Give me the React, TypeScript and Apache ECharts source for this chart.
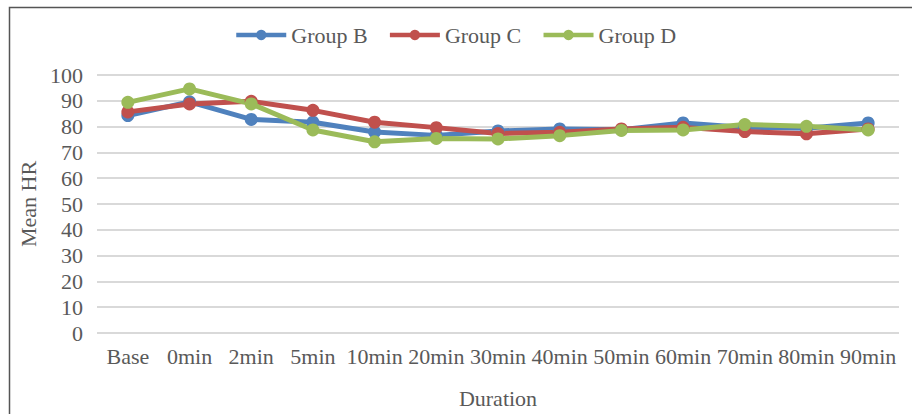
import React, { useEffect, useRef } from "react";
import * as echarts from "echarts";

const categories = ["Base", "0min", "2min", "5min", "10min", "20min", "30min", "40min", "50min", "60min", "70min", "80min", "90min"];
const groupB = [84.3, 89.6, 82.8, 81.7, 77.9, 76.6, 78.3, 79.1, 78.8, 81.4, 79.7, 79.4, 81.4];
const groupC = [85.7, 88.8, 89.8, 86.3, 81.7, 79.6, 77.3, 77.8, 79.1, 79.7, 78.1, 77.2, 79.1];
const groupD = [89.4, 94.6, 88.8, 78.7, 74.1, 75.4, 75.2, 76.5, 78.5, 78.7, 80.8, 80.1, 78.7];
const seriesNames = ["Group B", "Group C", "Group D"];
const colors = ["#4F81BD", "#C0504D", "#9BBB59"];

const FONT = "'Liberation Serif', 'Times New Roman', serif";
const TEXT = "#595959";
const FS = 22;

export default function App() {
  const ref = useRef<HTMLDivElement>(null);
  useEffect(() => {
    if (!ref.current) return;
    const chart = echarts.init(ref.current, null, { renderer: "svg" });
    const data = [groupB, groupC, groupD];
    chart.setOption({
      animation: false,
      textStyle: { fontFamily: FONT },
      graphic: [
        {
          type: "rect",
          shape: { x: 9.5, y: 7.5, width: 940, height: 440 },
          style: { fill: "none", stroke: "#555555", lineWidth: 1.5 },
          silent: true,
        },
      ],
      legend: {
        top: 19,
        left: 229,
        itemWidth: 50,
        itemHeight: 13,
        itemGap: 20,
        data: seriesNames,
        lineStyle: { width: 4.5 },
        textStyle: { fontFamily: FONT, fontSize: FS, color: TEXT },
      },
      grid: { left: 97, right: 13, top: 75, bottom: 78, containLabel: false },
      xAxis: {
        type: "category",
        data: categories,
        boundaryGap: true,
        name: "Duration",
        nameLocation: "middle",
        nameGap: 54,
        nameTextStyle: { fontFamily: FONT, fontSize: FS, color: TEXT },
        axisLine: { show: false },
        axisTick: { show: false },
        axisLabel: { fontFamily: FONT, fontSize: FS, color: TEXT, margin: 12, interval: 0 },
      },
      yAxis: {
        type: "value",
        min: 0,
        max: 100,
        interval: 10,
        name: "Mean HR",
        nameLocation: "middle",
        nameGap: 53,
        nameTextStyle: { fontFamily: FONT, fontSize: FS, color: TEXT },
        axisLine: { show: false },
        axisTick: { show: false },
        axisLabel: { fontFamily: FONT, fontSize: FS, color: TEXT, margin: 14 },
        splitLine: { lineStyle: { color: "#D9D9D9", width: 2 } },
      },
      series: seriesNames.map((name, i) => ({
        name,
        type: "line",
        data: data[i],
        symbol: "circle",
        symbolSize: 13,
        color: colors[i],
        lineStyle: { width: 5, color: colors[i] },
        itemStyle: { color: colors[i] },
      })),
    });
    return () => chart.dispose();
  }, []);
  return <div ref={ref} style={{ position: "fixed", left: 0, top: 0, width: 912, height: 414, background: "#fff" }} />;
}
